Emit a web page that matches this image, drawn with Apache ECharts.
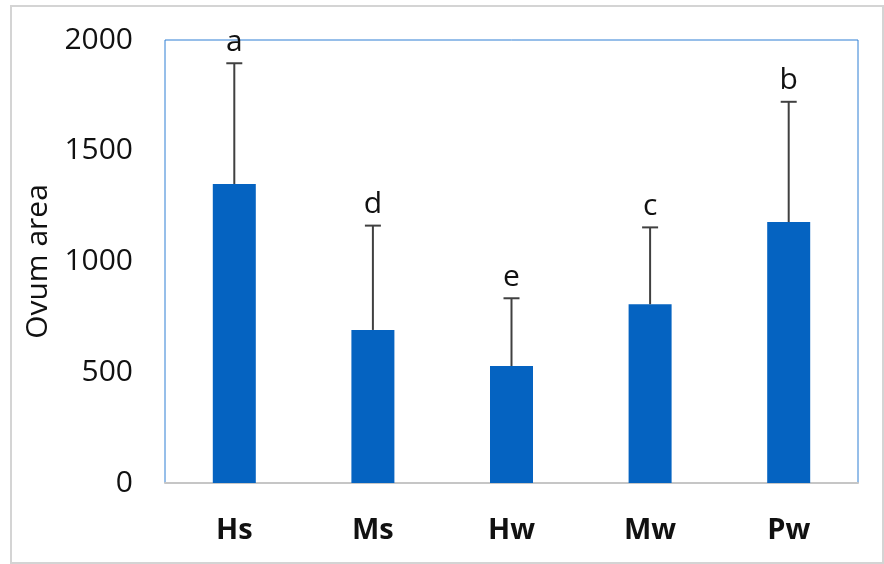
<!DOCTYPE html>
<html>
<head>
<meta charset="utf-8">
<style>
  html, body { margin: 0; padding: 0; background: #ffffff; }
  #chart { width: 884px; height: 564px; }
</style>
<script src="https://cdn.jsdelivr.net/npm/echarts@6/dist/echarts.min.js"></script>
</head>
<body>
<div id="chart"></div>
<script>
// Mean ovum area per group, upper standard deviation, and significance letters
const categories = ['Hs', 'Ms', 'Hw', 'Mw', 'Pw'];
const meanArea = [1350, 691, 528, 807, 1178];
const sdArea = [545, 471, 306, 347, 543];
const groupLetters = ['a', 'd', 'e', 'c', 'b'];
const yTicks = [0, 500, 1000, 1500, 2000];

const chart = echarts.init(document.getElementById('chart'), null, { renderer: 'canvas' });

const errorData = categories.map((c, i) => [i, meanArea[i], meanArea[i] + sdArea[i]]);

const option = {
  animation: false,
  backgroundColor: '#ffffff',
  textStyle: { fontFamily: 'Open Sans' },
  graphic: [{
    type: 'rect',
    shape: { x: 11, y: 6, width: 872, height: 557 },
    style: { fill: 'none', stroke: '#d4d4d4', lineWidth: 2 },
    silent: true,
    z: -1
  }],
  grid: {
    left: 165, right: 26, top: 40, bottom: 81,
    show: true,
    borderColor: '#2f7fd4',
    borderWidth: 1,
    backgroundColor: 'transparent'
  },
  xAxis: {
    type: 'category',
    data: categories,
    axisLine: { show: true, lineStyle: { color: '#c6c6c6', width: 2 } },
    axisTick: { show: false },
    axisLabel: {
      margin: 33,
      color: '#111111',
      fontFamily: 'Open Sans',
      fontWeight: 'bold',
      fontSize: 29
    },
    splitLine: { show: false }
  },
  yAxis: {
    type: 'value',
    min: yTicks[0],
    max: yTicks[yTicks.length - 1],
    interval: yTicks[1] - yTicks[0],
    name: 'Ovum area',
    nameLocation: 'middle',
    nameGap: 100,
    nameRotate: 90,
    nameTextStyle: { fontFamily: 'Open Sans', fontSize: 30, color: '#111111' },
    axisLine: { show: false },
    axisTick: { show: false },
    splitLine: { show: false },
    axisLabel: {
      margin: 32,
      color: '#111111',
      fontFamily: 'Open Sans',
      fontSize: 30,
      formatter: function (v) { return String(v); }
    }
  },
  series: [
    {
      name: 'Ovum area',
      type: 'bar',
      data: meanArea,
      barWidth: 43,
      itemStyle: { color: '#0563c1' },
      z: 2
    },
    {
      name: 'SD',
      type: 'custom',
      data: errorData,
      z: 3,
      renderItem: function (params, api) {
        const idx = api.value(0);
        const base = api.coord([idx, api.value(1)]);
        const top = api.coord([idx, api.value(2)]);
        const capHalf = 8;
        return {
          type: 'group',
          children: [
            {
              type: 'line',
              shape: { x1: base[0], y1: base[1], x2: top[0], y2: top[1] },
              style: { stroke: '#404040', lineWidth: 2 }
            },
            {
              type: 'line',
              shape: { x1: top[0] - capHalf, y1: top[1], x2: top[0] + capHalf, y2: top[1] },
              style: { stroke: '#404040', lineWidth: 2 }
            },
            {
              type: 'text',
              style: {
                text: groupLetters[idx],
                x: top[0],
                y: top[1] - 6,
                align: 'center',
                verticalAlign: 'bottom',
                fontFamily: 'Open Sans',
                fontSize: 30,
                fill: '#111111'
              }
            }
          ]
        };
      }
    }
  ]
};

chart.setOption(option);
</script>
</body>
</html>
